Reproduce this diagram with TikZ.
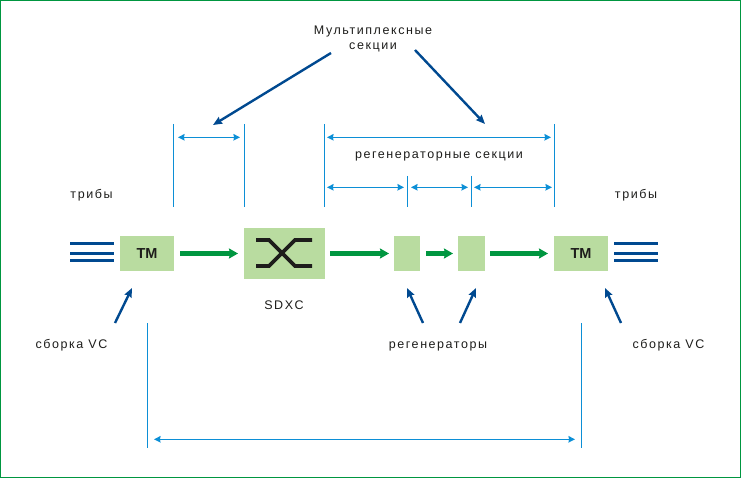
\documentclass[tikz,border=0pt]{standalone}
\usepackage{fontspec}
\setmainfont[LetterSpace=12.5]{Liberation Sans}
\newfontfamily\boldlabel{Liberation Sans}
\usetikzlibrary{arrows.meta}
\definecolor{framegreen}{HTML}{009640}
\definecolor{boxgreen}{HTML}{B9DCA0}
\definecolor{navy}{HTML}{004990}
\definecolor{skyline}{HTML}{0C8FD6}
\definecolor{ink}{HTML}{1D1D1B}
\tikzset{
  box/.style={fill=boxgreen,draw=none,inner sep=0pt,outer sep=0pt,font=\boldlabel\bfseries\fontsize{14.5}{14.5}\selectfont,text=ink},
  lbl/.style={inner sep=0pt,outer sep=0pt,font=\fontsize{12.5}{15}\selectfont,text=ink,align=center},
  flow/.style={draw=framegreen,line width=4.4pt,-{Stealth[length=9pt,width=10pt,inset=1pt]}},
  pointer/.style={draw=navy,line width=2.4pt,-{Stealth[length=9pt,width=7.5pt,inset=1pt]}},
  span/.style={draw=skyline,line width=1.1pt,{Stealth[length=6.5pt,width=6.5pt,inset=0.5pt]}-{Stealth[length=6.5pt,width=6.5pt,inset=0.5pt]}},
  tick/.style={draw=skyline,line width=1pt},
  trib/.style={draw=navy,line width=3pt},
  cross/.style={draw=ink,line width=3.6pt,miter limit=10}
}
\begin{document}
\begin{tikzpicture}[x=1pt,y=-1pt]
\useasboundingbox (0,0) rectangle (741,478);
\draw[framegreen,line width=1.4pt] (0.7,0.7) rectangle (740.3,477.3);
% boxes
\node[box,minimum width=54pt,minimum height=35pt] (tmL) at (147,253.5) {ТМ};
\node[box,minimum width=81pt,minimum height=51pt] (sdxc) at (284.5,253.5) {};
\node[box,minimum width=26pt,minimum height=35pt] (regA) at (407,253.5) {};
\node[box,minimum width=27pt,minimum height=35pt] (regB) at (471.5,253.5) {};
\node[box,minimum width=54pt,minimum height=35pt] (tmR) at (581,253.5) {ТМ};
% flow arrows
\draw[flow,shorten <=6pt,shorten >=6pt] (tmL.east) -- (sdxc.west);
\draw[flow,shorten <=5pt,shorten >=5pt] (sdxc.east) -- (regA.west);
\draw[flow,shorten <=6pt,shorten >=5pt] (regA.east) -- (regB.west);
\draw[flow,shorten <=5pt,shorten >=6pt] (regB.east) -- (tmR.west);
% switch glyph
\coordinate (cA) at (256,240); \coordinate (cB) at (269,240);
\coordinate (cC) at (295,266); \coordinate (cD) at (312,266);
\coordinate (cE) at (256,266); \coordinate (cF) at (269,266);
\coordinate (cG) at (295,240); \coordinate (cH) at (312,240);
\draw[cross] (cA) -- (cB) -- (cC) -- (cD);
\draw[cross] (cE) -- (cF) -- (cG) -- (cH);
% tributaries
\foreach \n/\y in {a/244,b/253.3,c/261}{
  \coordinate (tl\n s) at (70,\y); \coordinate (tl\n e) at (114,\y);
  \coordinate (tr\n s) at (614,\y); \coordinate (tr\n e) at (658,\y);
  \draw[trib] (tl\n s) -- (tl\n e);
  \draw[trib] (tr\n s) -- (tr\n e);
}
% labels
\node[lbl] (mux) at (373,39) {Мультиплексные\\секции};
\node[lbl] (regsec) at (439,156.5) {регенераторные секции};
\node[lbl] (tribL) at (91.5,195.5) {трибы};
\node[lbl] (tribR) at (636,195.5) {трибы};
\node[lbl] (sdxcl) at (284,305) {SDXC};
\node[lbl] (asmL) at (71.5,345) {сборка VC};
\node[lbl] (asmR) at (668.5,345) {сборка VC};
\node[lbl] (regl) at (438,346.5) {регенераторы};
% pointers
\coordinate (pA) at (331,53); \coordinate (pAt) at (213,125);
\coordinate (pB) at (415,50); \coordinate (pBt) at (485,124);
\draw[pointer] (pA) -- (pAt);
\draw[pointer] (pB) -- (pBt);
\coordinate (qA) at (115,323); \coordinate (qAt) at (132,288);
\coordinate (qB) at (423,323); \coordinate (qBt) at (407,288);
\coordinate (qC) at (460,323); \coordinate (qCt) at (476,288);
\coordinate (qD) at (621,323); \coordinate (qDt) at (605,288);
\draw[pointer] (qA) -- (qAt);
\draw[pointer] (qB) -- (qBt);
\draw[pointer] (qC) -- (qCt);
\draw[pointer] (qD) -- (qDt);
% ticks
\coordinate (t1a) at (173.3,124); \coordinate (t1b) at (173.3,207);
\coordinate (t2a) at (244.3,124); \coordinate (t2b) at (244.3,207);
\coordinate (t3a) at (324.3,124); \coordinate (t3b) at (324.3,207);
\coordinate (t4a) at (554.3,124); \coordinate (t4b) at (554.3,207);
\coordinate (t5a) at (407.3,176); \coordinate (t5b) at (407.3,207);
\coordinate (t6a) at (471.3,176); \coordinate (t6b) at (471.3,207);
\coordinate (t7a) at (147.3,323); \coordinate (t7b) at (147.3,448);
\coordinate (t8a) at (581.3,323); \coordinate (t8b) at (581.3,448);
\foreach \n in {1,...,8}{\draw[tick] (t\n a) -- (t\n b);}
% spans
\coordinate (s1a) at (178,137.3); \coordinate (s1b) at (240,137.3);
\coordinate (s2a) at (327,137.3); \coordinate (s2b) at (551,137.3);
\coordinate (s3a) at (327,187.3); \coordinate (s3b) at (404,187.3);
\coordinate (s4a) at (411,187.3); \coordinate (s4b) at (468,187.3);
\coordinate (s5a) at (474,187.3); \coordinate (s5b) at (552,187.3);
\coordinate (s6a) at (154,439.3); \coordinate (s6b) at (575,439.3);
\foreach \n in {1,...,6}{\draw[span] (s\n a) -- (s\n b);}
\end{tikzpicture}
\end{document}
